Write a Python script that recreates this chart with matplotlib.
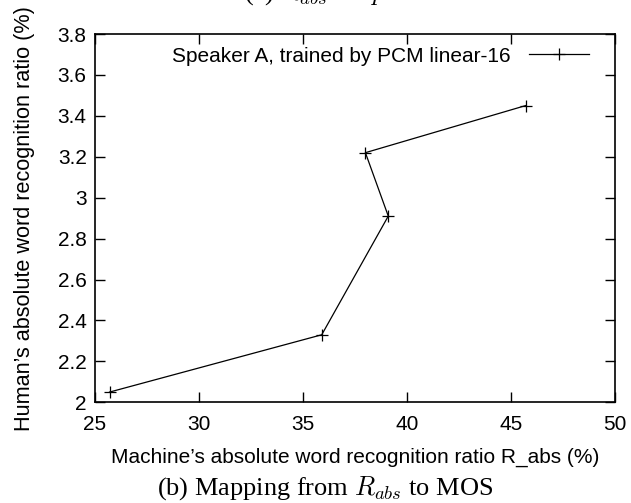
import matplotlib
matplotlib.use("Agg")
import matplotlib.pyplot as plt

# data
r_abs = [25.7, 35.9, 39.1, 38.0, 45.7]
mos = [2.05, 2.33, 2.91, 3.22, 3.45]
series_label = "Speaker A, trained by PCM linear-16"
x_ticks = [25, 30, 35, 40, 45, 50]
y_ticks = [2, 2.2, 2.4, 2.6, 2.8, 3, 3.2, 3.4, 3.6, 3.8]
y_tick_labels = ["2", "2.2", "2.4", "2.6", "2.8", "3", "3.2", "3.4", "3.6", "3.8"]

plt.rcParams['font.family'] = ['Liberation Sans', 'DejaVu Sans']
plt.rcParams['mathtext.fontset'] = 'cm'

fig = plt.figure(figsize=(6.31, 5.03), dpi=100)
ax = fig.add_axes([0.1506, 0.2002, 0.824, 0.7322])

ax.plot(r_abs, mos, color='black', linewidth=0.9, marker='+',
        markersize=8, markeredgewidth=0.9, label=series_label)

ax.set_xlim(25, 50)
ax.set_ylim(2, 3.8)
ax.set_xticks(x_ticks)
ax.set_yticks(y_ticks)
ax.set_yticklabels(y_tick_labels)
ax.tick_params(direction='in', length=7, width=1, top=True, right=True,
               labelsize=15)
ax.tick_params(axis='x', pad=9)
ax.tick_params(axis='y', pad=6)
for s in ax.spines.values():
    s.set_linewidth(1.2)

ax.set_xlabel("Machine\u2019s absolute word recognition ratio R_abs (%)",
              fontsize=15, labelpad=10)
ax.set_ylabel("Human\u2019s absolute word recognition ratio (%)",
              fontsize=15.6, labelpad=16)

leg = ax.legend(loc='upper right', frameon=False, fontsize=15,
                markerfirst=False, handlelength=2.9, handletextpad=0.9,
                borderaxespad=0.2, bbox_to_anchor=(0.975, 1.0))

fig.text(0.515, 0.016, r"(b) Mapping from $R_{abs}$ to MOS",
         family='Liberation Serif', fontsize=19, ha='center')
fig.text(0.5, 1.013, r"(a) $R_{abs}$ vs. $p$",
         family='Liberation Serif', fontsize=19, ha='center', va='center')

fig.savefig("out.png", dpi=100)
